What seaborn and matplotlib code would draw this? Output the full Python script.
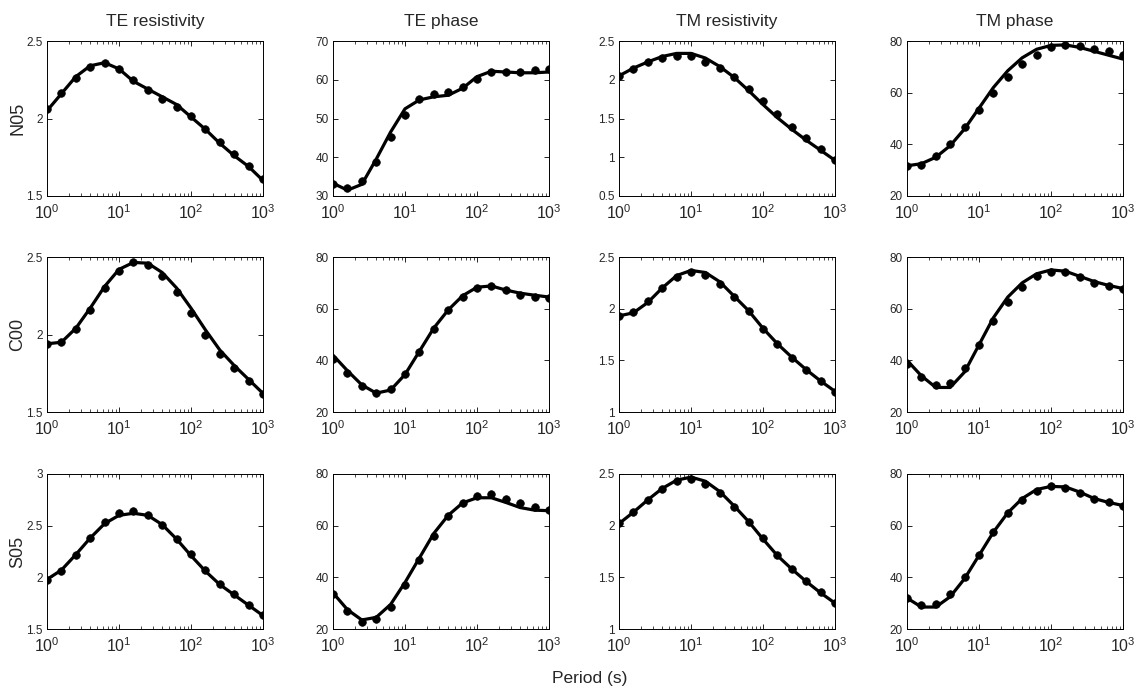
import numpy as np
import pandas as pd
import matplotlib
matplotlib.use("Agg")
import matplotlib.pyplot as plt
import seaborn as sns
from matplotlib.ticker import FixedLocator, FixedFormatter, LogLocator, NullFormatter

# ---------------- data ----------------
periods = [1.0, 1.585, 2.512, 3.981, 6.310, 10.0, 15.85, 25.12, 39.81, 63.10,
           100.0, 158.5, 251.2, 398.1, 631.0, 1000.0]

stations = ["N05", "C00", "S05"]
columns = ["TE resistivity", "TE phase", "TM resistivity", "TM phase"]

# observed data (dots)
n05_te_res_obs = [2.061, 2.165, 2.261, 2.332, 2.358, 2.321, 2.250, 2.182, 2.126, 2.074, 2.016, 1.932, 1.848, 1.769, 1.694, 1.608]
n05_te_pha_obs = [33.2, 32.0, 33.9, 38.7, 45.2, 51.0, 55.0, 56.2, 56.8, 58.2, 60.1, 61.9, 62.1, 62.1, 62.5, 62.7]
n05_tm_res_obs = [2.045, 2.144, 2.225, 2.285, 2.311, 2.303, 2.225, 2.148, 2.036, 1.878, 1.732, 1.552, 1.393, 1.251, 1.105, 0.959]
n05_tm_pha_obs = [31.7, 32.1, 35.6, 40.3, 46.8, 53.2, 59.7, 66.1, 71.0, 74.7, 77.7, 78.6, 78.2, 77.0, 76.0, 74.7]

c00_te_res_obs = [1.936, 1.951, 2.036, 2.161, 2.300, 2.412, 2.466, 2.446, 2.376, 2.275, 2.139, 1.998, 1.876, 1.783, 1.697, 1.614]
c00_te_pha_obs = [40.7, 35.2, 30.0, 27.5, 29.0, 34.9, 43.3, 52.2, 59.4, 64.5, 68.0, 68.7, 67.1, 65.3, 64.5, 64.0]
c00_tm_res_obs = [1.927, 1.966, 2.072, 2.201, 2.307, 2.352, 2.326, 2.239, 2.114, 1.982, 1.808, 1.657, 1.522, 1.403, 1.296, 1.193]
c00_tm_pha_obs = [38.4, 33.6, 30.4, 31.1, 36.9, 45.8, 55.2, 62.7, 68.4, 72.5, 74.2, 74.1, 72.1, 70.1, 68.9, 67.6]

s05_te_res_obs = [1.979, 2.058, 2.218, 2.378, 2.531, 2.620, 2.643, 2.601, 2.505, 2.371, 2.228, 2.074, 1.934, 1.835, 1.733, 1.631]
s05_te_pha_obs = [33.7, 26.8, 22.9, 23.8, 28.7, 37.0, 46.9, 56.1, 63.8, 68.9, 71.6, 72.1, 70.2, 68.6, 67.4, 66.1]
s05_tm_res_obs = [2.024, 2.133, 2.245, 2.356, 2.430, 2.452, 2.407, 2.318, 2.184, 2.037, 1.878, 1.718, 1.584, 1.463, 1.354, 1.249]
s05_tm_pha_obs = [31.9, 29.1, 29.7, 33.4, 40.1, 48.7, 57.4, 64.8, 69.9, 73.6, 75.5, 74.6, 72.7, 70.5, 69.1, 67.6]

# model response (lines)
n05_te_res_mod = [2.05, 2.16, 2.27, 2.34, 2.36, 2.32, 2.24, 2.19, 2.14, 2.09, 2.01, 1.93, 1.84, 1.76, 1.69, 1.60]
n05_te_pha_mod = [33.3, 31.5, 33.0, 39.5, 46.5, 52.5, 54.8, 55.6, 56.0, 57.8, 60.8, 62.2, 62.0, 61.8, 61.8, 62.0]
n05_tm_res_mod = [2.05, 2.15, 2.23, 2.30, 2.34, 2.34, 2.28, 2.17, 2.03, 1.86, 1.68, 1.51, 1.36, 1.22, 1.09, 0.96]
n05_tm_pha_mod = [31.7, 32.5, 35.0, 39.5, 46.0, 54.0, 62.0, 68.5, 73.5, 76.8, 78.3, 78.5, 77.5, 76.0, 74.5, 73.0]

c00_te_res_mod = [1.94, 1.95, 2.04, 2.17, 2.31, 2.42, 2.465, 2.46, 2.40, 2.30, 2.17, 2.03, 1.90, 1.80, 1.71, 1.62]
c00_te_pha_mod = [42.0, 36.0, 30.5, 27.3, 28.5, 34.5, 43.5, 52.5, 59.5, 65.0, 68.3, 68.8, 67.2, 66.0, 65.2, 64.5]
c00_tm_res_mod = [1.93, 1.96, 2.06, 2.20, 2.32, 2.37, 2.35, 2.26, 2.12, 1.98, 1.81, 1.66, 1.53, 1.41, 1.30, 1.20]
c00_tm_pha_mod = [40.0, 34.0, 29.5, 29.5, 35.5, 46.0, 56.5, 64.5, 70.0, 73.5, 75.0, 74.5, 72.5, 70.5, 69.0, 67.8]

s05_te_res_mod = [1.98, 2.07, 2.22, 2.38, 2.52, 2.60, 2.62, 2.60, 2.51, 2.37, 2.21, 2.06, 1.93, 1.83, 1.73, 1.63]
s05_te_pha_mod = [34.0, 27.5, 23.5, 24.5, 29.5, 38.0, 47.5, 57.0, 64.0, 68.8, 70.8, 70.8, 69.0, 67.0, 66.0, 65.8]
s05_tm_res_mod = [2.02, 2.13, 2.25, 2.36, 2.44, 2.47, 2.43, 2.33, 2.19, 2.04, 1.87, 1.71, 1.58, 1.46, 1.35, 1.25]
s05_tm_pha_mod = [32.0, 28.5, 28.5, 32.5, 39.5, 48.5, 57.5, 65.0, 70.5, 74.0, 75.2, 75.0, 73.0, 70.5, 69.0, 67.8]

# y-axis ticks per panel
n05_yticks = [[1.5, 2, 2.5], [30, 40, 50, 60, 70], [0.5, 1, 1.5, 2, 2.5], [20, 40, 60, 80]]
c00_yticks = [[1.5, 2, 2.5], [20, 40, 60, 80], [1, 1.5, 2, 2.5], [20, 40, 60, 80]]
s05_yticks = [[1.5, 2, 2.5, 3], [20, 40, 60, 80], [1, 1.5, 2, 2.5], [20, 40, 60, 80]]
ytick_labels = {1.5: "1.5", 2: "2", 2.5: "2.5", 3: "3", 0.5: "0.5", 1: "1",
                20: "20", 30: "30", 40: "40", 50: "50", 60: "60", 70: "70", 80: "80"}

xtick_vals = [1, 10, 100, 1000]
xtick_labels = [r"$\mathregular{10^{0}}$", r"$\mathregular{10^{1}}$",
                r"$\mathregular{10^{2}}$", r"$\mathregular{10^{3}}$"]

obs = [[n05_te_res_obs, n05_te_pha_obs, n05_tm_res_obs, n05_tm_pha_obs],
       [c00_te_res_obs, c00_te_pha_obs, c00_tm_res_obs, c00_tm_pha_obs],
       [s05_te_res_obs, s05_te_pha_obs, s05_tm_res_obs, s05_tm_pha_obs]]
mod = [[n05_te_res_mod, n05_te_pha_mod, n05_tm_res_mod, n05_tm_pha_mod],
       [c00_te_res_mod, c00_te_pha_mod, c00_tm_res_mod, c00_tm_pha_mod],
       [s05_te_res_mod, s05_te_pha_mod, s05_tm_res_mod, s05_tm_pha_mod]]
yticks = [n05_yticks, c00_yticks, s05_yticks]

# ---------------- style ----------------
sns.set_theme(style="ticks")
plt.rcParams["font.family"] = ["Liberation Sans", "DejaVu Sans"]
plt.rcParams["mathtext.fontset"] = "custom"
plt.rcParams["mathtext.rm"] = "Liberation Sans"
plt.rcParams["mathtext.it"] = "Liberation Sans:italic"
plt.rcParams["mathtext.bf"] = "Liberation Sans:bold"

W, H = 1137, 698
fig = plt.figure(figsize=(W / 100, H / 100), dpi=100)
fig.patch.set_facecolor("white")

lefts = [47, 333, 619, 907]
tops = [41, 257, 474]
aw, ah = 216, 155

for r in range(3):
    for c in range(4):
        ax = fig.add_axes([lefts[c] / W, 1 - (tops[r] + ah) / H, aw / W, ah / H])
        df = pd.DataFrame({"period": periods, "obs": obs[r][c], "mod": mod[r][c]})
        sns.lineplot(data=df, x="period", y="mod", ax=ax, color="black",
                     linewidth=2.3, sort=False, zorder=2)
        sns.scatterplot(data=df, x="period", y="obs", ax=ax, color="black",
                        s=30, edgecolor="black", linewidth=0.5, zorder=3)
        ax.set_xscale("log")
        ax.set_xlim(1, 1000)
        yt = yticks[r][c]
        ax.set_ylim(yt[0], yt[-1])
        ax.yaxis.set_major_locator(FixedLocator(yt))
        ax.yaxis.set_major_formatter(FixedFormatter([ytick_labels[v] for v in yt]))
        ax.xaxis.set_major_locator(FixedLocator(xtick_vals))
        ax.xaxis.set_major_formatter(FixedFormatter(xtick_labels))
        ax.xaxis.set_minor_locator(LogLocator(base=10, subs=np.arange(2, 10)))
        ax.xaxis.set_minor_formatter(NullFormatter())
        ax.set_xlabel("")
        ax.set_ylabel("")
        ax.tick_params(axis="both", which="both", direction="in",
                       top=True, right=True, color="black")
        ax.tick_params(axis="both", which="major", length=3.5, width=0.6)
        ax.tick_params(axis="both", which="minor", length=2, width=0.5)
        ax.tick_params(axis="x", which="major", labelsize=11.5, pad=5)
        ax.tick_params(axis="y", which="major", labelsize=8.5, pad=3)
        for sp in ax.spines.values():
            sp.set_visible(True)
            sp.set_linewidth(0.7)
            sp.set_color("black")
        ax.set_facecolor("white")
        if r == 0:
            ax.set_title(columns[c], fontsize=12.5, pad=11)
        if c == 0:
            fig.text(18 / W, 1 - (tops[r] + ah / 2) / H, stations[r],
                     rotation=90, ha="center", va="center", fontsize=13)

fig.text(590 / W, 1 - 679 / H, "Period (s)", ha="center", va="center", fontsize=12.5)

fig.savefig("out.png", dpi=100, facecolor="white")
